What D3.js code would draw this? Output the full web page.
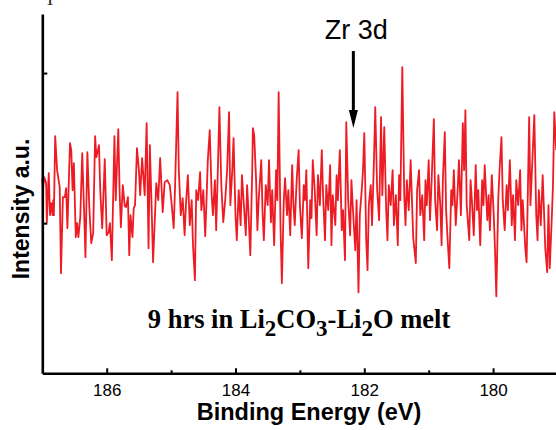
<!DOCTYPE html>
<html><head><meta charset="utf-8">
<script src="https://cdn.jsdelivr.net/npm/d3@7/dist/d3.min.js"></script>
<style>body{margin:0;background:#fff}svg{display:block}</style>
</head><body><svg id="c" width="556" height="430"></svg>
<script>
// Binding energy (eV) of each recorded point
const energy = [
187.00,186.99,186.97,186.94,186.93,186.90,186.88,186.86,186.84,186.83,
186.82,186.80,186.77,186.73,186.71,186.68,186.65,186.63,186.61,186.57,
186.55,186.53,186.51,186.48,186.46,186.44,186.41,186.38,186.35,186.33,
186.30,186.27,186.24,186.21,186.18,186.16,186.12,186.10,186.07,186.03,
186.00,185.97,185.95,185.92,185.88,185.86,185.82,185.80,185.78,185.75,
185.72,185.70,185.67,185.65,185.63,185.60,185.58,185.56,185.53,185.50,
185.48,185.45,185.41,185.38,185.35,185.33,185.30,185.28,185.23,185.20,
185.17,185.13,185.10,185.06,185.02,
184.99,184.96,184.94,184.90,184.88,184.85,184.82,184.79,184.77,184.74,
184.71,184.68,184.66,184.63,184.61,184.58,184.55,184.53,184.50,184.47,
184.45,184.43,184.40,184.37,184.35,184.32,184.30,184.27,184.25,184.22,
184.19,184.16,184.13,184.10,184.08,184.05,184.03,184.00,183.98,183.95,
183.92,183.90,183.87,183.84,183.82,183.80,183.77,183.74,183.73,183.71,
183.68,183.66,183.64,183.60,183.58,183.56,183.53,183.50,183.48,183.45,
183.43,183.40,183.37,183.35,183.33,183.30,183.28,183.25,183.23,183.20,
183.18,183.15,183.12,183.10,183.08,183.05,183.02,183.00,182.97,182.94,
182.92,182.90,182.87,182.84,182.82,182.80,182.77,182.74,182.72,182.69,
182.66,182.64,182.61,182.59,182.56,182.53,182.51,182.49,182.45,182.43,
182.41,182.38,182.35,182.33,182.30,182.28,182.25,182.22,182.20,182.18,
182.14,182.12,182.09,182.07,182.04,182.02,182.00,181.97,181.95,181.93,
181.90,181.88,181.85,181.83,181.80,181.77,181.74,181.72,181.69,181.66,
181.64,181.62,181.59,181.56,181.54,181.51,181.48,181.46,181.44,181.41,
181.38,181.36,181.34,181.31,181.28,181.26,181.24,181.20,181.18,181.15,
181.13,181.10,181.07,181.05,181.03,181.00,180.98,180.96,180.92,180.90,
180.87,180.85,180.82,180.80,180.78,180.75,180.73,180.71,180.68,180.65,
180.63,180.61,180.58,180.55,180.53,180.50,180.47,180.45,180.43,180.41,
180.37,180.35,180.33,180.30,180.27,180.25,180.23,180.20,180.17,180.15,
180.13,180.09,180.07,180.05,180.02,179.99,179.97,179.95,179.92,179.90,
179.87,179.85,179.82,179.79,179.77,179.74,179.71,179.69,179.66,179.64,
179.61,179.58,179.56,179.54,179.50,179.48,179.46,179.44,179.42,179.40,
179.36,179.33,179.31,179.29,179.26,179.23,179.21,179.19,179.16,179.14,
179.12,179.09,179.07,179.05,179.02
];
// Intensity (a.u.)
const intensity = [
195,183,196,190,151,200,158,170,158,173,
158,237,203,186,100,176,176,185,145,230,
223,183,210,136,150,136,156,220,160,116,
221,166,130,140,237,216,228,183,145,214,
138,141,150,113,237,173,244,183,146,188,
167,166,176,118,158,136,165,168,225,203,
178,215,178,250,125,228,160,111,190,173,
215,161,191,193,188,
168,145,183,281,203,158,175,138,168,198,
148,173,128,93,183,173,201,163,183,137,
173,213,243,178,158,193,143,213,266,188,
151,173,203,261,168,203,235,158,133,183,
148,198,168,138,188,163,118,203,245,238,
193,143,173,213,161,133,188,168,213,151,
183,128,203,173,281,143,90,173,195,158,
183,138,208,168,148,193,223,168,135,188,
173,203,105,173,155,213,183,138,198,168,
223,178,133,188,163,208,128,178,148,198,
173,223,143,163,113,251,173,138,193,168,
123,173,81,158,183,203,240,133,103,168,
188,148,213,266,183,153,256,178,246,163,
133,188,168,203,148,178,128,198,173,306,
178,148,193,163,213,173,135,110,183,203,
158,178,133,193,168,213,153,183,254,173,
143,198,168,128,193,241,163,138,105,183,
168,203,148,183,213,158,250,203,263,168,
133,193,173,138,208,163,183,128,193,168,
208,153,178,143,198,158,123,77,173,203,
236,173,143,188,163,213,148,178,133,193,
168,203,143,173,125,111,183,256,168,198,
258,158,133,183,148,198,163,125,101,168,
105,153,188,261,223
];
const xMajorTicks = [186, 184, 182, 180];
const xMinorTicks = [185, 183, 181, 179];
const yTicks = [150, 300];
const peakLabel = "Zr 3d";
const peakEnergy = 182.17;
const xTitle = "Binding Energy (eV)";
const yTitle = "Intensity a.u.";

const svg = d3.select("#c");
const x = d3.scaleLinear().domain([187, 179]).range([42.3, 557.5]);
const y = d3.scaleLinear().domain([0, 359]).range([373.3, 14]);
const data = energy.map((e, i) => ({e, v: intensity[i]}));

// spectrum line
svg.append("path").datum(data)
  .attr("fill", "none").attr("stroke", "#ED1C24").attr("stroke-width", 1.8)
  .attr("stroke-linejoin", "round")
  .attr("d", d3.line().x(d => x(d.e)).y(d => y(d.v)));

// x axis
const gx = svg.append("g").attr("transform", `translate(0,${y(0)})`)
  .call(d3.axisBottom(x).tickValues(xMajorTicks).tickSize(-5).tickSizeOuter(0).tickPadding(11).tickFormat(d3.format("d")));
gx.select(".domain").attr("stroke-width", 2.6);
gx.selectAll(".tick line").attr("stroke-width", 2);
gx.selectAll("text").attr("font-family", "Liberation Sans, Arial, sans-serif").attr("font-size", 17).attr("fill", "#000");
const gxm = svg.append("g").attr("transform", `translate(0,${y(0)})`)
  .call(d3.axisBottom(x).tickValues(xMinorTicks).tickSize(-3).tickSizeOuter(0).tickFormat(""));
gxm.select(".domain").remove();
gxm.selectAll(".tick line").attr("stroke-width", 2);

// y axis
const gy = svg.append("g").attr("transform", `translate(${x(187)},0)`)
  .call(d3.axisLeft(y).tickValues(yTicks).tickSize(-5).tickSizeOuter(0).tickFormat(""));
gy.select(".domain").attr("stroke-width", 2.6);
gy.selectAll(".tick line").attr("stroke-width", 2);

// axis titles
svg.append("text").attr("x", 309).attr("y", 420).attr("text-anchor", "middle")
  .attr("font-family", "Liberation Sans, Arial, sans-serif").attr("font-weight", "bold")
  .attr("font-size", 23.5).text(xTitle);
svg.append("text").attr("transform", "translate(28.5,209) rotate(-90)").attr("text-anchor", "middle")
  .attr("font-family", "Liberation Sans, Arial, sans-serif").attr("font-weight", "bold")
  .attr("font-size", 23).text(yTitle);

// annotation arrow
const ax = x(peakEnergy);
svg.append("line").attr("x1", ax).attr("x2", ax).attr("y1", y(322)).attr("y2", y(260))
  .attr("stroke", "#000").attr("stroke-width", 3);
svg.append("path").attr("d", `M${ax-4.5},${y(263)}L${ax+4.5},${y(263)}L${ax},${y(245)}Z`).attr("fill", "#000");
svg.append("text").attr("x", ax + 3).attr("y", 39).attr("text-anchor", "middle")
  .attr("font-family", "Liberation Sans, Arial, sans-serif").attr("font-size", 27).text(peakLabel);

// sample note
const note = svg.append("text").attr("x", 299).attr("y", 328).attr("text-anchor", "middle")
  .attr("font-family", "Liberation Serif, Times New Roman, serif").attr("font-weight", "bold")
  .attr("font-size", 26.5);
const parts = [["9 hrs in Li",0],["2",1],["CO",0],["3",1],["-Li",0],["2",1],["O melt",0]];
let prevSub = 0;
parts.forEach(([t, s]) => {
  const dy = (s - prevSub) * 8;
  note.append("tspan").attr("dy", dy).attr("font-size", s ? 23 : 26.5).text(t);
  prevSub = s;
});

// clipped glyph at top edge
svg.append("text").attr("x", 50).attr("y", 5).attr("text-anchor", "middle")
  .attr("font-family", "Liberation Serif, Times New Roman, serif").attr("font-size", 20)
  .attr("fill", "#333").text("I");
</script></body></html>
